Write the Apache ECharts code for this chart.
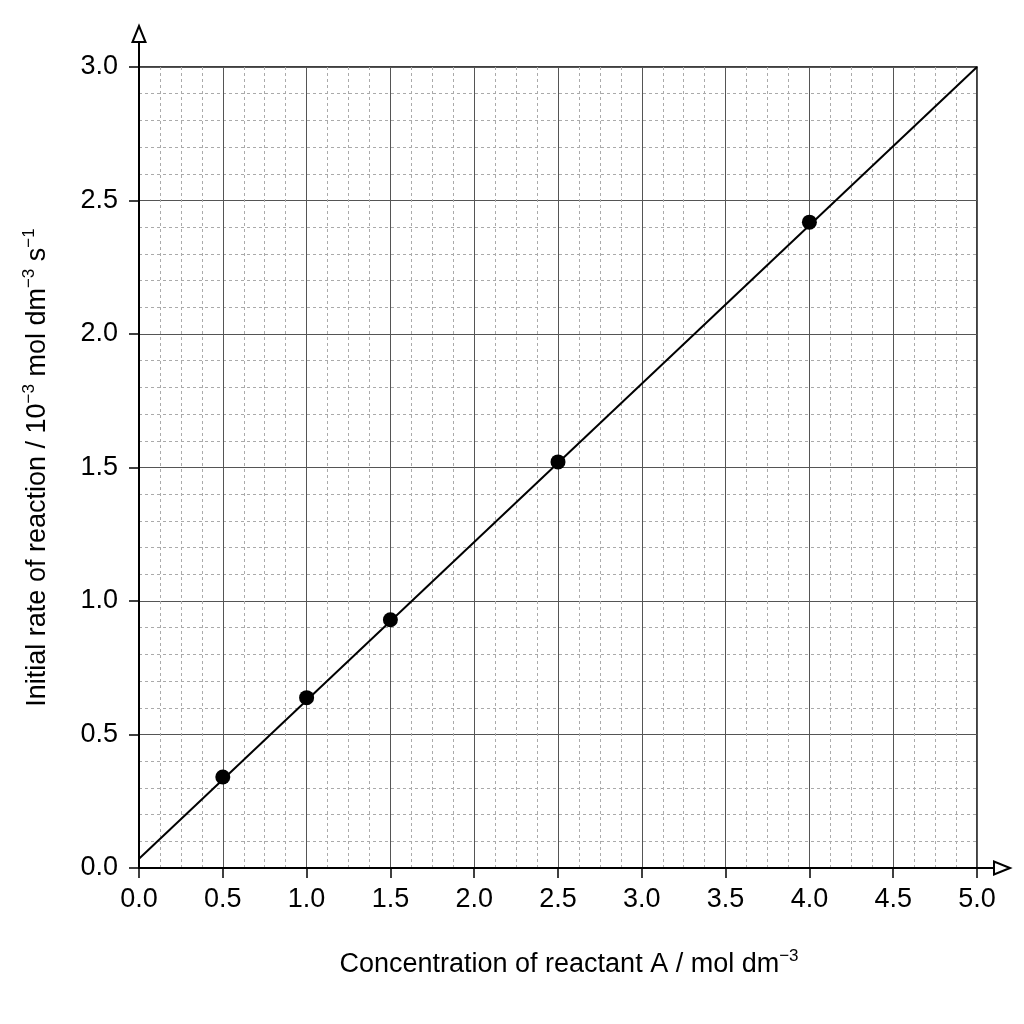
<!DOCTYPE html>
<html>
<head>
<meta charset="utf-8">
<script src="https://cdn.jsdelivr.net/npm/echarts@6/dist/echarts.min.js"></script>
<style>html,body{margin:0;padding:0;background:#fff}#c{width:1024px;height:1024px}</style>
</head>
<body>
<div id="c"></div>
<script>
// Data
const concentrations = [0.5, 1.0, 1.5, 2.5, 4.0];
const rates = [0.341, 0.638, 0.930, 1.521, 2.419];
const fitX = [0, 5];
const fitY = [0.035, 3.0];
const xTicks = ['0.0','0.5','1.0','1.5','2.0','2.5','3.0','3.5','4.0','4.5','5.0'];
const yTicks = ['0.0','0.5','1.0','1.5','2.0','2.5','3.0'];
const xTitle = 'Concentration of reactant A / mol dm{sup|−3}';
const yTitle = 'Initial rate of reaction / 10{sup|−3} mol dm{sup|−3} s{sup|−1}';

const FONT = '"Liberation Sans", Arial, sans-serif';
const chart = echarts.init(document.getElementById('c'), null, {renderer: 'canvas'});

const rich = {
  sup: {fontSize: 17, fontFamily: FONT, color: '#000', verticalAlign: 'top', lineHeight: 17}
};

const option = {
  backgroundColor: '#fff',
  animation: false,
  grid: [
    {left: 139, right: 47, top: 67, bottom: 156, show: true, borderColor: '#000', borderWidth: 1.5, backgroundColor: 'transparent'},
    {left: 139, right: 22, top: 34, bottom: 156, show: false}
  ],
  xAxis: [
    {
      type: 'value', gridIndex: 0, min: 0, max: 5, interval: 0.5,
      name: xTitle, nameLocation: 'middle', nameGap: 80,
      nameTextStyle: {fontSize: 27, fontFamily: FONT, color: '#000', lineHeight: 34, rich: rich, padding: [0, 0, 0, 22]},
      axisLine: {show: true, onZero: false, lineStyle: {color: '#000', width: 2}},
      axisTick: {show: true, length: 10, lineStyle: {color: '#000', width: 1.5}},
      axisLabel: {fontSize: 27, fontFamily: FONT, color: '#000', margin: 18,
        formatter: (v) => xTicks[Math.round(v / 0.5)]},
      splitLine: {show: true, lineStyle: {color: '#555', width: 1}},
      minorTick: {show: false, splitNumber: 4},
      minorSplitLine: {show: true, lineStyle: {color: '#aaa', width: 1, type: [3, 3]}}
    },
    {
      type: 'value', gridIndex: 1, min: 0, max: 1,
      axisLine: {show: true, onZero: false, symbol: ['none', 'emptyTriangle'], symbolSize: [13, 16],
        lineStyle: {color: '#000', width: 2}},
      axisTick: {show: false}, axisLabel: {show: false}, splitLine: {show: false}
    }
  ],
  yAxis: [
    {
      type: 'value', gridIndex: 0, min: 0, max: 3, interval: 0.5,
      name: yTitle, nameLocation: 'middle', nameGap: 84, nameRotate: 90,
      nameTextStyle: {fontSize: 27, fontFamily: FONT, color: '#000', lineHeight: 34, rich: rich},
      axisLine: {show: true, onZero: false, lineStyle: {color: '#000', width: 2}},
      axisTick: {show: true, length: 10, lineStyle: {color: '#000', width: 1.5}},
      axisLabel: {fontSize: 27, fontFamily: FONT, color: '#000', margin: 21,
        formatter: (v) => yTicks[Math.round(v / 0.5)]},
      splitLine: {show: true, lineStyle: {color: '#555', width: 1}},
      minorTick: {show: false, splitNumber: 5},
      minorSplitLine: {show: true, lineStyle: {color: '#aaa', width: 1, type: [3, 3]}}
    },
    {
      type: 'value', gridIndex: 1, min: 0, max: 1,
      axisLine: {show: true, onZero: false, symbol: ['none', 'emptyTriangle'], symbolSize: [13, 16],
        lineStyle: {color: '#000', width: 2}},
      axisTick: {show: false}, axisLabel: {show: false}, splitLine: {show: false}
    }
  ],
  series: [
    {
      type: 'line', xAxisIndex: 0, yAxisIndex: 0,
      data: fitX.map((x, i) => [x, fitY[i]]),
      showSymbol: false, symbol: 'none',
      lineStyle: {color: '#000', width: 2}, z: 3, silent: true
    },
    {
      type: 'scatter', xAxisIndex: 0, yAxisIndex: 0,
      data: concentrations.map((x, i) => [x, rates[i]]),
      symbol: 'circle', symbolSize: 15,
      itemStyle: {color: '#000', opacity: 1}, z: 4
    }
  ]
};
chart.setOption(option);
</script>
</body>
</html>
